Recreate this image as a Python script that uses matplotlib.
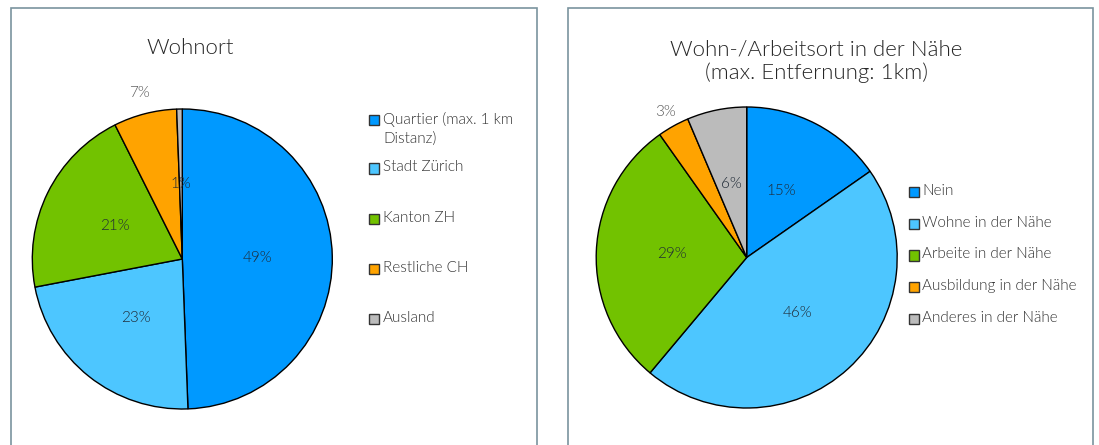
import numpy as np
import matplotlib
matplotlib.use("Agg")
import matplotlib.pyplot as plt
from matplotlib.patches import Rectangle

# ---------------- data ----------------
title_left = "Wohnort"
cats_left = ["Quartier (max. 1 km\nDistanz)", "Stadt Zürich", "Kanton ZH", "Restliche CH", "Ausland"]
vals_left = [49.4, 22.6, 20.6, 6.8, 0.6]

title_right = "Wohn-/Arbeitsort in der Nähe\n(max. Entfernung: 1km)"
cats_right = ["Nein", "Wohne in der Nähe", "Arbeite in der Nähe", "Ausbildung in der Nähe", "Anderes in der Nähe"]
vals_right = [15.3, 45.8, 29.1, 3.4, 6.4]

colors = ["#0099FF", "#4DC6FF", "#72C200", "#FFA300", "#BBBBBB"]

# label radial distance (fraction of radius) per slice
dist_left = [0.5, 0.5, 0.5, 1.14, 0.5]
dist_right = [0.5, 0.5, 0.5, 1.11, 0.5]

W, H = 1099, 445
FONT = ["Lato", "DejaVu Sans"]
plt.rcParams["font.family"] = FONT
WEIGHT = 300

fig = plt.figure(figsize=(W / 100, H / 100), dpi=100)
fig.patch.set_facecolor("white")


def fx(px):
    return px / W


def fy(py):
    return 1 - py / H


# panel borders
for x0, x1 in [(11, 537), (567.5, 1093)]:
    fig.patches.append(Rectangle((fx(x0), fy(H + 5)), fx(x1) - fx(x0), fy(8) - fy(H + 5),
                                 transform=fig.transFigure, fill=False,
                                 edgecolor="#7A949E", linewidth=1.2))


def draw_pie(cx, cy, r, vals, dists):
    ax = fig.add_axes([fx(cx - r), fy(cy + r), fx(2 * r), fy(cy - r) - fy(cy + r)])
    wedges, _ = ax.pie(vals, colors=colors, startangle=90, counterclock=False,
                       wedgeprops=dict(edgecolor="black", linewidth=1.0),
                       normalize=True)
    for w in wedges:
        w.set_clip_on(False)
    ax.set_xlim(-1, 1)
    ax.set_ylim(-1, 1)
    ax.set_aspect("equal")
    ax.axis("off")
    total = sum(vals)
    for w, v, d in zip(wedges, vals, dists):
        ang = np.deg2rad((w.theta1 + w.theta2) / 2)
        col = "#1F2A36" if d < 1 else "#595959"
        ax.text(d * np.cos(ang), d * np.sin(ang), f"{round(v / total * 100):.0f}%",
                ha="center", va="center", fontsize=11, color=col, fontweight=WEIGHT)
    return ax


draw_pie(182.3, 259, 150, vals_left, dist_left)
draw_pie(746.7, 257.5, 150.5, vals_right, dist_right)

# titles
fig.text(fx(190), fy(48), title_left, ha="center", va="center", fontsize=16,
         color="#262626", fontweight=WEIGHT)
fig.text(fx(816.5), fy(61), title_right, ha="center", va="center", fontsize=16,
         color="#262626", linespacing=1.2, fontweight=WEIGHT)


def draw_legend(x_sq, x_txt, y_rows, cats, size=10):
    for y, c, col in zip(y_rows, cats, colors):
        fig.patches.append(Rectangle((fx(x_sq), fy(y + size / 2)), fx(size), fy(y - size / 2) - fy(y + size / 2),
                                     transform=fig.transFigure, facecolor=col,
                                     edgecolor="#333333", linewidth=1.0))
        fig.text(fx(x_txt), fy(y - 8), c, ha="left", va="top", fontsize=11,
                 color="#333333", linespacing=1.4, fontweight=WEIGHT)


draw_legend(368.5, 383, [120, 168.5, 218.5, 268.5, 318.5], cats_left)
draw_legend(909, 922, [191.7, 224, 255.5, 287, 318.5], cats_right)

fig.savefig("out.png", dpi=100, facecolor="white")
